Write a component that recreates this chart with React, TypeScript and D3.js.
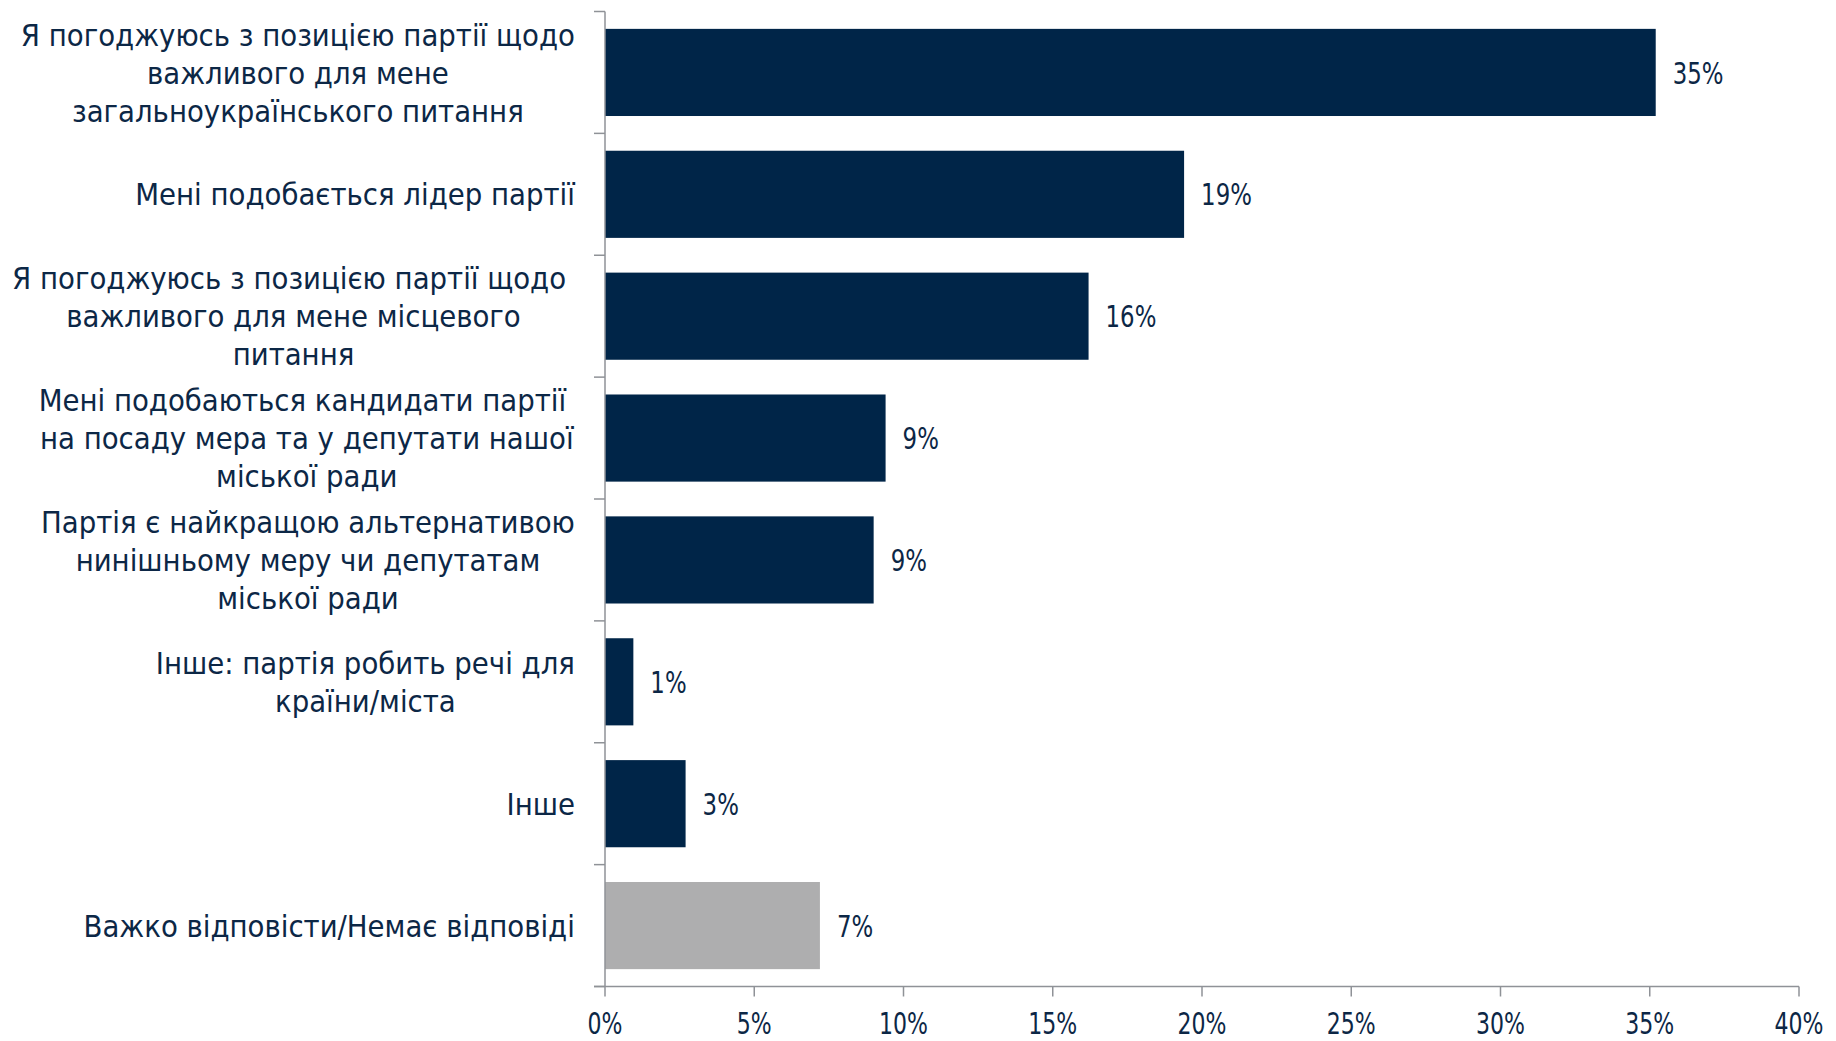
import React from "react";
import * as d3 from "d3";

const categoryLines: string[][] = [
  ["Я погоджуюсь з позицією партії щодо", "важливого для мене", "загальноукраїнського питання"],
  ["Мені подобається лідер партії"],
  ["Я погоджуюсь з позицією партії щодо ", "важливого для мене місцевого", "питання"],
  ["Мені подобаються кандидати партії ", "на посаду мера та у депутати нашої", "міської ради"],
  ["Партія є найкращою альтернативою", "нинішньому меру чи депутатам", "міської ради"],
  ["Інше: партія робить речі для", "країни/міста"],
  ["Інше"],
  ["Важко відповісти/Немає відповіді"],
];
const values: number[] = [35.2, 19.4, 16.2, 9.4, 9.0, 0.95, 2.7, 7.2];
const valueLabels: string[] = ["35%", "19%", "16%", "9%", "9%", "1%", "3%", "7%"];
const xTicks: number[] = [0, 5, 10, 15, 20, 25, 30, 35, 40];

const W = 1836;
const H = 1041;
const FONT = "'DejaVu Sans Condensed', 'DejaVu Sans', sans-serif";
const CAT_FS = 31;
const CAT_SX = 0.99;
const NUM_FS = 31;
const NUM_SX = 0.82;
const TICK_FS = 29.5;
const TICK_SX = 0.83;
const TEXT = "#0c2746";
const NAVY = "#002548";
const GRAY = "#aeaeaf";
const AXIS = "#8f9297";

function measure(t: string, fs: number): number {
  const c = document.createElement("canvas").getContext("2d")!;
  c.font = `${fs}px ${FONT}`;
  return c.measureText(t).width;
}

export default function App() {
  const x = d3.scaleLinear().domain([0, 40]).range([605, 1799]);
  const idx = d3.range(values.length);
  const y = d3.scaleBand<number>().domain(idx).range([11.5, 986.5]).paddingInner(0.285).paddingOuter(0.1425);
  const step = y.step();
  const top = y.range()[0];
  const bottom = y.range()[1];
  const labelRight = 575;
  const lineH = 38;

  return (
    <svg width={W} height={H} style={{ position: "absolute", left: 0, top: 0 }} fontFamily={FONT}>
      <rect width={W} height={H} fill="#fff" />
      {idx.map((i) => (
        <rect
          key={"b" + i}
          x={x(0)}
          y={y(i)!}
          width={x(values[i]) - x(0)}
          height={y.bandwidth()}
          fill={i === values.length - 1 ? GRAY : NAVY}
        />
      ))}
      {idx.map((i) => (
        <text
          key={"v" + i}
          transform={`translate(${x(values[i]) + 17},${y(i)! + y.bandwidth() / 2}) scale(${NUM_SX},1)`}
          dy="0.36em"
          fontSize={NUM_FS}
          fill={TEXT}
        >
          {valueLabels[i]}
        </text>
      ))}
      {idx.map((i) => {
        const lines = categoryLines[i];
        const maxW = Math.max(...lines.map((l) => measure(l, CAT_FS))) * CAT_SX;
        const cx = labelRight - maxW / 2;
        const cy = y(i)! + y.bandwidth() / 2;
        const y0 = cy - ((lines.length - 1) * lineH) / 2;
        return (
          <g key={"c" + i}>
            {lines.map((l, j) => (
              <text
                key={j}
                transform={`translate(${cx},${y0 + j * lineH}) scale(${CAT_SX},1)`}
                dy="0.36em"
                fontSize={CAT_FS}
                fill={TEXT}
                textAnchor="middle"
                style={{ whiteSpace: "pre" }}
              >
                {l}
              </text>
            ))}
          </g>
        );
      })}
      {/* y axis */}
      <line x1={x(0)} x2={x(0)} y1={top} y2={bottom} stroke={AXIS} strokeWidth={1.5} />
      {d3.range(values.length + 1).map((k) => (
        <line key={"yt" + k} x1={x(0) - 11} x2={x(0)} y1={top + k * step} y2={top + k * step} stroke={AXIS} strokeWidth={1.5} />
      ))}
      {/* x axis */}
      <line x1={x(0) - 11} x2={x(40)} y1={bottom} y2={bottom} stroke={AXIS} strokeWidth={1.5} />
      {xTicks.map((t) => (
        <g key={"xt" + t}>
          <line x1={x(t)} x2={x(t)} y1={bottom} y2={bottom + 10} stroke={AXIS} strokeWidth={1.5} />
          <text
            transform={`translate(${x(t)},1033.5) scale(${TICK_SX},1)`}
            textAnchor="middle"
            fontSize={TICK_FS}
            fill={TEXT}
          >
            {t + "%"}
          </text>
        </g>
      ))}
    </svg>
  );
}
